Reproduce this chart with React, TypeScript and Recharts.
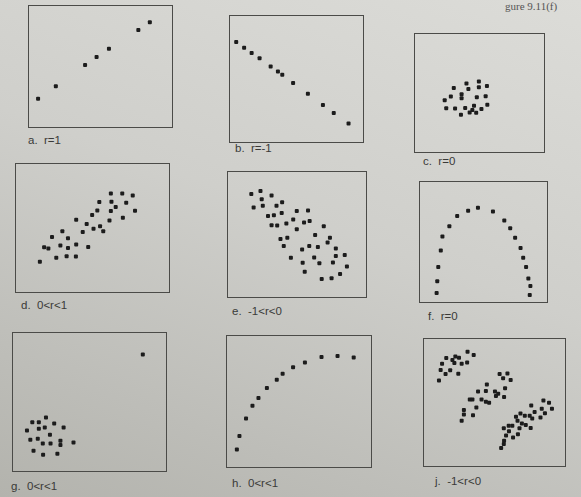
import React from 'react';
import { ScatterChart, Scatter, XAxis, YAxis } from 'recharts';

type Pt = { x: number; y: number };

// values, 0-100 inside each box
const ptsA: Pt[] = [
  { x: 6.4, y: 22.7 }, { x: 18.9, y: 33.2 }, { x: 39.5, y: 50.8 }, { x: 47.6, y: 57.6 },
  { x: 56.3, y: 64.3 }, { x: 77.0, y: 80.0 }, { x: 85.1, y: 86.5 },
];

const ptsB: Pt[] = [
  { x: 4.7, y: 79.2 }, { x: 10.7, y: 74.6 }, { x: 16.4, y: 70.5 }, { x: 22.4, y: 66.2 },
  { x: 30.8, y: 59.7 }, { x: 36.3, y: 55.7 }, { x: 39.6, y: 53.0 }, { x: 47.8, y: 46.5 },
  { x: 59.0, y: 37.8 }, { x: 70.4, y: 28.9 }, { x: 78.6, y: 22.4 }, { x: 89.8, y: 14.1 },
];

const ptsC: Pt[] = [
  { x: 40.2, y: 57.6 }, { x: 49.9, y: 59.4 }, { x: 30.3, y: 53.8 }, { x: 41.7, y: 52.9 },
  { x: 49.9, y: 54.4 }, { x: 56.2, y: 55.6 }, { x: 28.0, y: 46.5 }, { x: 36.4, y: 48.5 },
  { x: 36.4, y: 45.0 }, { x: 48.3, y: 45.9 }, { x: 55.2, y: 46.8 }, { x: 23.2, y: 43.3 },
  { x: 24.4, y: 36.5 }, { x: 31.3, y: 36.3 }, { x: 39.2, y: 36.8 }, { x: 46.1, y: 38.6 },
  { x: 51.9, y: 36.0 }, { x: 56.5, y: 39.5 }, { x: 35.9, y: 31.0 }, { x: 42.7, y: 33.0 },
  { x: 47.8, y: 32.7 }, { x: 44.8, y: 35.1 },
];

const ptsD: Pt[] = [
  { x: 62.4, y: 76.8 }, { x: 69.9, y: 76.8 }, { x: 76.8, y: 75.2 }, { x: 54.8, y: 70.0 },
  { x: 62.8, y: 70.2 }, { x: 72.5, y: 69.5 }, { x: 65.6, y: 66.1 }, { x: 53.5, y: 63.4 },
  { x: 62.4, y: 62.9 }, { x: 78.3, y: 63.2 }, { x: 50.1, y: 59.8 }, { x: 70.3, y: 57.7 },
  { x: 39.6, y: 56.1 }, { x: 61.5, y: 55.6 }, { x: 46.5, y: 52.7 }, { x: 55.3, y: 50.9 },
  { x: 30.5, y: 47.0 }, { x: 51.0, y: 49.1 }, { x: 43.9, y: 46.5 }, { x: 57.4, y: 47.0 },
  { x: 23.7, y: 42.6 }, { x: 34.2, y: 41.5 }, { x: 18.5, y: 34.5 }, { x: 21.3, y: 33.4 },
  { x: 29.2, y: 35.8 }, { x: 34.2, y: 33.9 }, { x: 39.6, y: 36.6 }, { x: 47.5, y: 34.7 },
  { x: 26.5, y: 26.1 }, { x: 33.3, y: 27.4 }, { x: 39.4, y: 27.2 }, { x: 15.7, y: 23.0 },
];

const ptsE: Pt[] = [
  { x: 17.0, y: 82.2 }, { x: 23.7, y: 84.6 }, { x: 31.8, y: 81.1 }, { x: 24.6, y: 78.1 },
  { x: 18.7, y: 71.4 }, { x: 25.4, y: 72.7 }, { x: 35.4, y: 72.7 }, { x: 39.5, y: 75.7 },
  { x: 29.2, y: 64.6 }, { x: 33.5, y: 65.1 }, { x: 39.2, y: 67.0 }, { x: 50.2, y: 68.6 },
  { x: 58.4, y: 68.9 }, { x: 31.8, y: 57.0 }, { x: 35.9, y: 56.8 }, { x: 42.6, y: 58.4 },
  { x: 47.6, y: 61.6 }, { x: 55.5, y: 59.2 }, { x: 59.6, y: 60.5 }, { x: 50.2, y: 53.8 },
  { x: 69.9, y: 56.2 }, { x: 63.6, y: 49.2 }, { x: 38.3, y: 45.9 }, { x: 43.3, y: 47.0 },
  { x: 74.4, y: 47.0 }, { x: 72.7, y: 43.2 }, { x: 40.7, y: 40.3 }, { x: 54.1, y: 37.6 },
  { x: 59.3, y: 40.3 }, { x: 65.6, y: 39.5 }, { x: 78.7, y: 38.4 }, { x: 45.9, y: 30.8 },
  { x: 62.9, y: 31.1 }, { x: 78.7, y: 32.2 }, { x: 85.2, y: 33.0 }, { x: 54.5, y: 26.8 },
  { x: 66.7, y: 26.5 }, { x: 76.6, y: 27.0 }, { x: 86.8, y: 23.8 }, { x: 56.0, y: 19.5 },
  { x: 81.8, y: 17.8 }, { x: 68.4, y: 13.8 }, { x: 75.6, y: 14.3 },
];

const ptsF: Pt[] = [
  { x: 13.2, y: 6.8 }, { x: 13.7, y: 16.6 }, { x: 14.5, y: 28.5 }, { x: 16.5, y: 42.5 },
  { x: 17.8, y: 54.1 }, { x: 23.3, y: 62.8 }, { x: 29.5, y: 71.5 }, { x: 38.2, y: 75.8 },
  { x: 46.0, y: 78.3 }, { x: 57.9, y: 75.2 }, { x: 66.9, y: 67.6 }, { x: 71.6, y: 61.1 },
  { x: 75.5, y: 53.2 }, { x: 79.8, y: 44.5 }, { x: 81.9, y: 36.3 }, { x: 84.2, y: 28.5 },
  { x: 86.0, y: 18.9 }, { x: 87.6, y: 12.7 }, { x: 87.1, y: 5.1 },
];

const ptsG: Pt[] = [
  { x: 85.4, y: 84.3 }, { x: 12.7, y: 34.8 }, { x: 17.0, y: 34.8 }, { x: 21.7, y: 38.3 },
  { x: 27.1, y: 34.0 }, { x: 33.3, y: 31.0 }, { x: 17.0, y: 30.2 }, { x: 20.9, y: 31.0 },
  { x: 9.2, y: 28.8 }, { x: 24.3, y: 25.7 }, { x: 11.4, y: 22.1 }, { x: 16.3, y: 22.9 },
  { x: 19.6, y: 19.3 }, { x: 24.7, y: 19.3 }, { x: 31.2, y: 21.4 }, { x: 31.2, y: 18.3 },
  { x: 39.8, y: 20.0 }, { x: 13.5, y: 14.0 }, { x: 19.8, y: 11.2 }, { x: 29.2, y: 11.9 },
];

const ptsH: Pt[] = [
  { x: 6.9, y: 12.7 }, { x: 8.7, y: 23.0 }, { x: 13.3, y: 36.5 }, { x: 17.8, y: 46.3 },
  { x: 22.0, y: 52.4 }, { x: 27.9, y: 60.0 }, { x: 34.8, y: 66.3 }, { x: 38.9, y: 70.9 },
  { x: 46.2, y: 75.9 }, { x: 54.5, y: 79.7 }, { x: 66.1, y: 83.8 }, { x: 77.3, y: 84.6 },
  { x: 88.6, y: 83.5 },
];

const ptsJ: Pt[] = [
  // upper-left group
  { x: 31.1, y: 89.9 }, { x: 35.5, y: 87.3 }, { x: 22.4, y: 86.2 }, { x: 25.0, y: 85.2 },
  { x: 15.9, y: 84.9 }, { x: 20.3, y: 83.4 }, { x: 12.9, y: 80.3 }, { x: 21.7, y: 81.0 },
  { x: 26.9, y: 80.3 }, { x: 30.8, y: 81.3 }, { x: 11.9, y: 75.3 }, { x: 18.7, y: 75.1 },
  { x: 15.4, y: 72.2 }, { x: 24.5, y: 72.5 }, { x: 10.7, y: 67.0 },
  // middle group
  { x: 54.0, y: 72.2 }, { x: 59.6, y: 72.7 }, { x: 56.5, y: 68.8 }, { x: 61.9, y: 67.5 },
  { x: 44.9, y: 63.9 }, { x: 57.9, y: 61.0 }, { x: 38.6, y: 58.4 }, { x: 44.2, y: 58.7 },
  { x: 50.7, y: 58.4 }, { x: 53.0, y: 56.6 }, { x: 51.4, y: 54.8 }, { x: 57.2, y: 54.0 },
  { x: 32.7, y: 51.9 }, { x: 34.6, y: 51.9 }, { x: 41.1, y: 51.9 }, { x: 44.2, y: 50.1 },
  { x: 46.5, y: 49.4 }, { x: 37.4, y: 45.7 }, { x: 28.5, y: 43.6 }, { x: 28.5, y: 40.0 },
  { x: 35.0, y: 39.5 }, { x: 26.9, y: 35.1 },
  // lower-right group
  { x: 85.3, y: 51.2 }, { x: 89.3, y: 49.4 }, { x: 76.6, y: 47.3 }, { x: 84.1, y: 44.7 },
  { x: 91.4, y: 44.7 }, { x: 79.0, y: 42.1 }, { x: 68.9, y: 40.8 }, { x: 72.0, y: 39.0 },
  { x: 75.5, y: 39.0 }, { x: 86.4, y: 41.0 }, { x: 83.2, y: 37.7 }, { x: 65.7, y: 38.2 },
  { x: 66.8, y: 35.1 }, { x: 77.3, y: 36.9 }, { x: 69.9, y: 33.0 }, { x: 72.7, y: 31.7 },
  { x: 76.2, y: 29.4 }, { x: 60.5, y: 31.2 }, { x: 63.1, y: 31.2 }, { x: 57.0, y: 29.1 },
  { x: 68.2, y: 29.1 }, { x: 60.7, y: 26.8 }, { x: 67.1, y: 24.4 }, { x: 58.6, y: 23.4 },
  { x: 63.6, y: 21.8 }, { x: 57.2, y: 19.2 }, { x: 57.0, y: 16.6 }, { x: 55.1, y: 13.5 },
];

const captions = ['a.  r=1', 'b.  r=-1', 'c.  r=0', 'd.  0<r<1', 'e.  -1<r<0', 'f.  r=0', 'g.  0<r<1', 'h.  0<r<1', 'j.  -1<r<0'];
const series = [ptsA, ptsB, ptsC, ptsD, ptsE, ptsF, ptsG, ptsH, ptsJ];

// box placement on the page: left, top, width, height, caption left, caption top
const layout = [
  [28, 5, 145, 123, 28, 134],
  [229, 15, 135, 128, 235, 142],
  [414, 33, 131, 120, 423, 155],
  [15, 163, 155, 130, 21, 299],
  [227, 171, 140, 127, 232, 305],
  [419, 181, 129, 122, 428, 310],
  [12, 332, 155, 140, 11, 480],
  [226, 335, 146, 133, 232, 477],
  [423, 338, 143, 129, 435, 475],
];

const Dot = (p: any) => (
  <rect x={p.cx - 2} y={p.cy - 2} width={4} height={4} rx={1} fill="#1c1c1c" />
);

const Panel = ({ data, caption, box }: { data: Pt[]; caption: string; box: number[] }) => {
  const [left, top, w, h, lx, ly] = box;
  return (
    <>
      <div
        style={{
          position: 'absolute', left, top, width: w, height: h,
          border: '1.5px solid #4b4b48', boxSizing: 'border-box',
        }}
      >
        <ScatterChart width={w - 3} height={h - 3} margin={{ top: 0, right: 0, bottom: 0, left: 0 }}>
          <XAxis type="number" dataKey="x" domain={[0, 100]} hide />
          <YAxis type="number" dataKey="y" domain={[0, 100]} hide />
          <Scatter data={data} shape={Dot} isAnimationActive={false} />
        </ScatterChart>
      </div>
      <div
        style={{
          position: 'absolute', left: lx, top: ly, fontSize: 11.5, color: '#3a3a38',
          fontFamily: '"Liberation Sans", Arial, sans-serif', whiteSpace: 'pre',
        }}
      >
        {caption}
      </div>
    </>
  );
};

export default function App() {
  return (
    <div
      style={{
        position: 'absolute', left: 0, top: 0, width: 581, height: 497, overflow: 'hidden',
        background: 'linear-gradient(200deg, #dcdcd8 0%, #cfcfcb 45%, #bdbdb8 80%, #b3b3ad 100%)',
      }}
    >
      <div
        style={{
          position: 'absolute', left: 505, top: 0, fontSize: 11, lineHeight: '12px', color: '#555',
          fontFamily: '"Liberation Serif", serif', whiteSpace: 'nowrap',
        }}
      >
        gure 9.11(f)
      </div>
      {series.map((d, i) => (
        <Panel key={i} data={d} caption={captions[i]} box={layout[i]} />
      ))}
    </div>
  );
}
